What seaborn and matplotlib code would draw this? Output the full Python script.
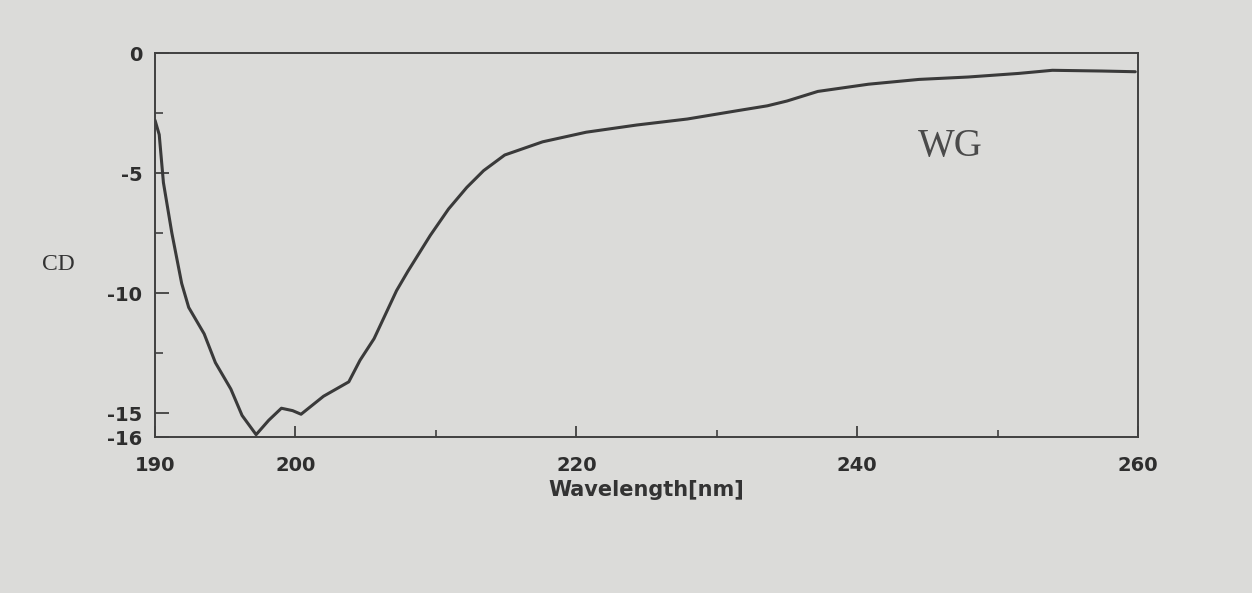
import matplotlib
matplotlib.use("Agg")
import matplotlib.pyplot as plt
import seaborn as sns
import pandas as pd
from matplotlib.ticker import FixedLocator

# ---- data ----
wavelength = [190.0, 190.3, 190.6, 191.2, 191.9, 192.4, 193.5, 194.3, 195.4, 196.2,
              197.2, 198.1, 199.0, 199.8, 200.4, 202.0, 203.8, 204.6, 205.6, 206.4,
              207.2, 208.0, 209.6, 210.9, 212.2, 213.4, 214.9, 217.6, 220.7, 224.3,
              227.9, 231.5, 233.6, 235.0, 237.2, 240.8, 244.4, 247.9, 251.5, 253.9,
              257.4, 259.8]
cd = [-2.8, -3.4, -5.4, -7.5, -9.6, -10.6, -11.7, -12.9, -14.0, -15.1,
      -15.9, -15.3, -14.8, -14.9, -15.05, -14.3, -13.7, -12.8, -11.9, -10.9,
      -9.9, -9.1, -7.6, -6.5, -5.6, -4.9, -4.25, -3.7, -3.3, -3.0,
      -2.75, -2.4, -2.2, -2.0, -1.6, -1.3, -1.1, -1.0, -0.85, -0.72,
      -0.75, -0.78]

x_major = [190, 200, 220, 240, 260]
x_minor = [210, 230, 250]
y_major = [0, -5, -10, -15, -16]
y_minor = [-2.5, -7.5, -12.5]
x_label = "Wavelength[nm]"
y_label = "CD"
annotation = "WG"

df = pd.DataFrame({"wavelength": wavelength, "cd": cd})

sns.set_style("white")
plt.rcParams["font.family"] = ["DejaVu Sans"]

bg = "#dbdbd9"
ink = "#3a3a3a"

fig = plt.figure(figsize=(12.52, 5.93), dpi=100, facecolor=bg)
ax = fig.add_axes([0.1238, 0.263, 0.909 - 0.1238, 0.9106 - 0.263])
ax.set_facecolor(bg)

sns.lineplot(data=df, x="wavelength", y="cd", ax=ax, color=ink,
             linewidth=2.2, sort=False, legend=False)

ax.set_xlim(190, 260)
ax.set_ylim(-16, 0)

for s in ax.spines.values():
    s.set_color("#404040")
    s.set_linewidth(1.4)

ax.xaxis.set_major_locator(FixedLocator(x_major))
ax.xaxis.set_minor_locator(FixedLocator(x_minor))
ax.yaxis.set_major_locator(FixedLocator(y_major))
ax.yaxis.set_minor_locator(FixedLocator(y_minor))
ax.set_xticklabels([str(v) for v in x_major])
ax.set_yticklabels([str(v) for v in y_major])

ax.tick_params(axis="x", which="both", bottom=True, top=False)
ax.tick_params(axis="y", which="both", left=True, right=False)
ax.tick_params(axis="x", which="major", direction="in", length=8, width=1.3,
               color="#404040", pad=14, labelsize=14, labelcolor="#2e2e2e")
ax.tick_params(axis="x", which="minor", direction="in", length=5, width=1.2,
               color="#404040")
ax.tick_params(axis="y", which="major", direction="in", length=10, width=1.3,
               color="#404040", pad=9, labelsize=14, labelcolor="#2e2e2e")
ax.tick_params(axis="y", which="minor", direction="in", length=6, width=1.2,
               color="#404040")
for lab in ax.get_xticklabels() + ax.get_yticklabels():
    lab.set_fontweight("bold")

ax.set_xlabel(x_label, fontsize=15, fontweight="bold", color="#333333", labelpad=3)
ax.set_ylabel("")
fig.text(58 / 1252, 1 - 265 / 593, y_label, fontsize=17, family="Liberation Serif",
         color="#333333", ha="center", va="center")

ax.text(246.6, -3.9, annotation, fontsize=28, family="Liberation Serif",
        color="#4a4a4a", ha="center", va="center")

fig.savefig("out.png", dpi=100, facecolor=bg)
